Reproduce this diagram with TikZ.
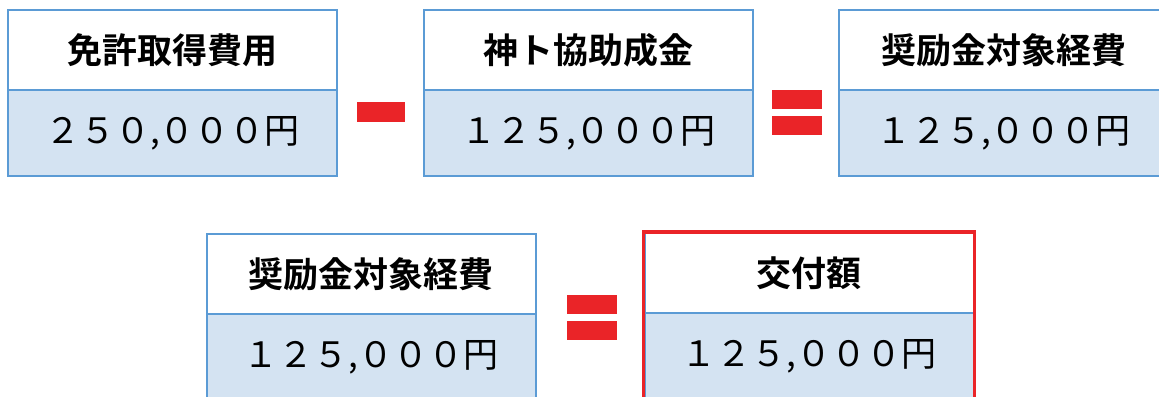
\documentclass[tikz,border=0pt]{standalone}
\usepackage{fontspec}
\setmainfont{Noto Sans CJK JP}[BoldFont=* Bold]
\definecolor{boxblue}{RGB}{91,155,213}
\definecolor{valfill}{RGB}{212,227,242}
\definecolor{signred}{RGB}{234,36,40}
\tikzset{
    headbox/.style={draw=boxblue, line width=1pt, fill=white, inner sep=0pt,
        minimum width=164.5pt, minimum height=40pt,
        font=\fontsize{17.5}{20}\selectfont\bfseries},
    valbox/.style={draw=boxblue, line width=1pt, fill=valfill, inner sep=0pt,
        minimum width=164.5pt, minimum height=43pt,
        font=\fontsize{17.5}{20}\selectfont},
    signbar/.style={fill=signred, inner sep=0pt, minimum width=25pt, minimum height=9.5pt}
}
\begin{document}
\begin{tikzpicture}[x=0.5pt, y=-0.5pt]
                \clip (0,0) rectangle (1159,396);
                \fill[white] (0,0) rectangle (1159,396);
                \node[headbox] (menkyo) at (172.5,50) {免許取得費用};
                \node[valbox] (menkyoval) at (172.5,133) {２５０,０００円};
                \node[signbar, minimum width=24pt, minimum height=10pt] (minus) at (381,112) {};
                \node[headbox] (jyosei) at (588.5,50) {神ト協助成金};
                \node[valbox] (jyoseival) at (588.5,133) {１２５,０００円};
                \node[signbar] (eqtopa) at (797,99) {};
                \node[signbar] (eqtopb) at (797,125) {};
                \node[headbox] (taisho) at (1003.5,50) {奨励金対象経費};
                \node[valbox] (taishoval) at (1003.5,133) {１２５,０００円};
                \node[headbox] (taishob) at (371,274) {奨励金対象経費};
                \node[valbox] (taishobval) at (371,357) {１２５,０００円};
                \node[signbar] (eqbota) at (591.5,304.5) {};
                \node[signbar] (eqbotb) at (591.5,330) {};
                \node[headbox] (kofu) at (809,273) {交付額};
                \node[valbox] (kofuval) at (809,356) {１２５,０００円};
                \draw[signred, line width=1.75pt] (kofu.north west) rectangle (kofuval.south east);
            \end{tikzpicture}
\end{document}
